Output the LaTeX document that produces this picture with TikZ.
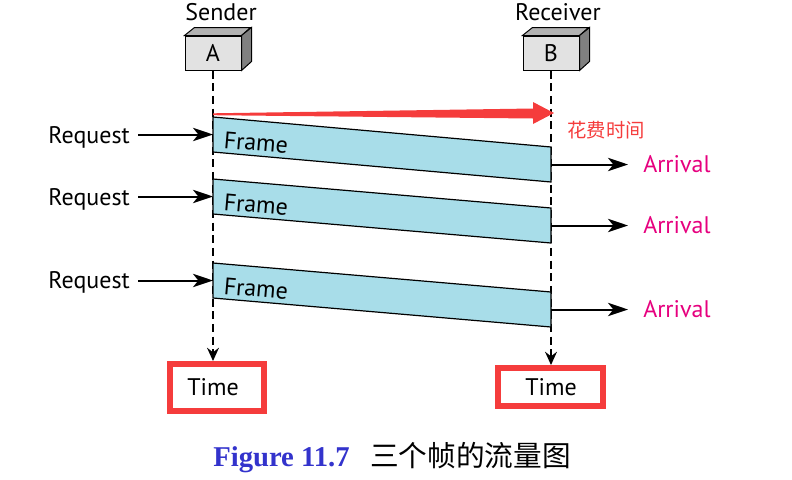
\documentclass[tikz,border=0pt]{standalone}
\usepackage{fontspec}
\setmainfont{PT Sans}
\newfontfamily\cjk{Noto Sans CJK SC}
\newfontfamily\capfont{Liberation Serif}
\usetikzlibrary{arrows.meta}
\definecolor{framefill}{RGB}{168,221,233}
\definecolor{boxfront}{RGB}{226,226,226}
\definecolor{boxtop}{RGB}{178,178,178}
\definecolor{boxside}{RGB}{128,128,128}
\definecolor{arrivalcol}{RGB}{230,0,126}
\definecolor{hlred}{RGB}{245,60,60}
\definecolor{capblue}{RGB}{51,51,204}
\tikzset{
  lbl/.style={inner sep=0pt, font=\fontsize{18}{21}\selectfont},
  station/.style={draw=black, line width=0.75pt, fill=boxfront, minimum width=42pt, minimum height=25.5pt, inner sep=0pt, font=\fontsize{18}{21}\selectfont},
  timeline/.style={line width=0.9pt, dash pattern=on 6pt off 3.5pt, -{Stealth[length=10pt,width=9pt,inset=3.5pt]}},
  sigarrow/.style={line width=1.5pt, -{Stealth[length=15pt,width=10pt,inset=4pt]}},
  framebox/.style={draw=black, line width=0.9pt, fill=framefill},
  timebox/.style={draw=hlred, line width=4.5pt, inner sep=0pt},
}
\begin{document}
\begin{tikzpicture}[x=0.75pt,y=-0.75pt]
\useasboundingbox (0,0) rectangle (792,479);
% stations
\node[lbl] (snd) at (221,12) {Sender};
\node[lbl] (rcv) at (558,12) {Receiver};
\node[station] (A) at (213,53) {A};
\node[station] (B) at (551,53) {B};
\foreach \s in {A,B}{
  \fill[boxtop, draw=black, line width=0.75pt] (\s.north west) -- ++(10,-8) -- ++(56,0) -- (\s.north east) -- cycle;
  \fill[boxside, draw=black, line width=0.75pt] (\s.north east) -- ++(10,-8) -- ++(0,34) -- (\s.south east) -- cycle;
}
% time boxes
\node[timebox, minimum width=70.5pt, minimum height=35.25pt] (tA) at (217,387.5) {};
\node[timebox, minimum width=78.75pt, minimum height=28.5pt] (tB) at (550.5,387) {};
\node[lbl] (tAt) at (213,387) {Time};
\node[lbl] (tBt) at (551,387) {Time};
\draw[timeline] (A.south) -- (A.south |- tA.north);
\draw[timeline] (B.south) -- (B.south |- tB.north);
% red elapsed-time arrow
\fill[hlred] (213,113.3) -- (533,108.5) -- (533,102) -- (554,113) -- (533,124) -- (533,118.5) -- (213,115.2) -- cycle;
\node[inner sep=0pt, text=hlred, font=\cjk\fontsize{14.5}{16}\selectfont] (cost) at (606,130) {花费时间};
% frames
\foreach \t/\r/\n/\ry in {117/147/1/143, 179/208/2/205, 263/292/3/288}{
  \filldraw[framebox] (213,\t) -- (551,\r) -- (551,\r+35) -- (213,\t+35) -- cycle;
  \node[lbl, anchor=base west, rotate=-5] (fr\n) at (223,\t+31) {Frame};
  \coordinate (fl\n) at (213,\t+17.5);
  \coordinate (frr\n) at (551,\r+17.5);
  \coordinate (rs\n) at (138,\t+17.5);
  \coordinate (ae\n) at (628,\r+17.5);
  \node[lbl, anchor=base east] (req\n) at (130,\ry) {Request};
  \node[lbl, anchor=base west, text=arrivalcol] (arr\n) at (643,\r+25) {Arrival};
  \draw[sigarrow] (rs\n) -- (fl\n);
  \draw[sigarrow] (frr\n) -- (ae\n);
}
% caption
\node[inner sep=0pt, anchor=base west, text=capblue, font=\capfont\bfseries\fontsize{21.5}{24}\selectfont] (cap) at (213,466) {Figure 11.7};
\node[inner sep=0pt, anchor=base west, font=\cjk\fontsize{21.5}{24}\selectfont] (capzh) at (370,466) {三个帧的流量图};
\end{tikzpicture}
\end{document}
